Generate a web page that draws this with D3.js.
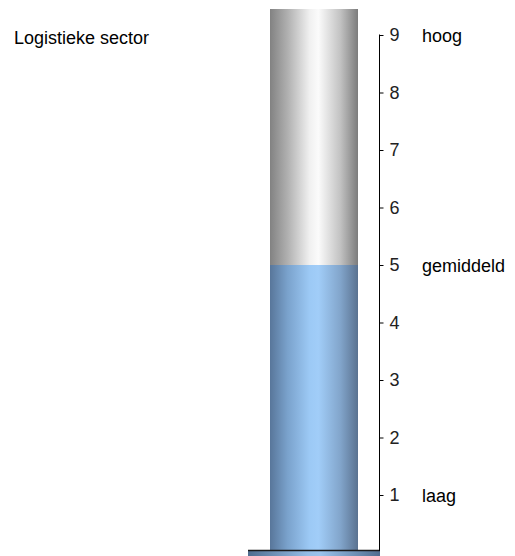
<!DOCTYPE html>
<html>
<head>
<meta charset="utf-8">
<script src="https://cdn.jsdelivr.net/npm/d3@7"></script>
<style>
  body { margin: 0; background: #fff; }
  svg { display: block; font-family: "Liberation Sans", Arial, sans-serif; }
</style>
</head>
<body>
<svg id="chart" width="515" height="556"></svg>
<script>
var title = "Logistieke sector";
var score = [5];
var maxScore = [9];
var tickValues = [1, 2, 3, 4, 5, 6, 7, 8, 9];
var levelValues = [1, 5, 9];
var levelLabels = ["laag", "gemiddeld", "hoog"];

var svg = d3.select("#chart");

var y = d3.scaleLinear()
	.domain([0, 9])
	.range([552.5, 35]);

var tubeLeft = 270, tubeRight = 358;

var defs = svg.append("defs");

function tubeGradient(id, stops) {
	var g = defs.append("linearGradient")
		.attr("id", id)
		.attr("x1", "0%").attr("x2", "100%")
		.attr("y1", "0%").attr("y2", "0%");
	stops.forEach(function(s) {
		g.append("stop").attr("offset", s[0]).attr("stop-color", s[1]);
	});
}

tubeGradient("grayGrad", [
	["0%", "#828282"], ["20%", "#b0b0b0"], ["45%", "#f0f0f0"],
	["55%", "#fbfbfb"], ["80%", "#c2c2c2"], ["100%", "#7c7c7c"]
]);
tubeGradient("blueGrad", [
	["0%", "#58769a"], ["20%", "#7aa2cc"], ["45%", "#9cc9f5"],
	["55%", "#a1cdf8"], ["80%", "#82a5cb"], ["100%", "#5a7290"]
]);
tubeGradient("floorGrad", [
	["0%", "#4f6d8f"], ["45%", "#94bde6"], ["55%", "#9ac3ec"], ["100%", "#4f6d8f"]
]);

// empty part of the tube
svg.append("rect")
	.attr("x", tubeLeft)
	.attr("y", 9)
	.attr("width", tubeRight - tubeLeft)
	.attr("height", 550 - 9)
	.attr("fill", "url(#grayGrad)");

// filled part
svg.selectAll(".fill")
	.data(score)
	.enter()
	.append("rect")
	.attr("class", "fill")
	.attr("x", tubeLeft)
	.attr("y", function(d) { return y(d); })
	.attr("width", tubeRight - tubeLeft)
	.attr("height", function(d) { return 550 - y(d); })
	.attr("fill", "url(#blueGrad)");

// floor
svg.append("rect")
	.attr("x", 248)
	.attr("y", 550)
	.attr("width", 132)
	.attr("height", 6)
	.attr("fill", "url(#floorGrad)");
svg.append("line")
	.attr("x1", 248).attr("x2", 380)
	.attr("y1", 550.5).attr("y2", 550.5)
	.attr("stroke", "#1a1a1a")
	.attr("stroke-width", 1.5);

// axis
var axis = d3.axisRight(y)
	.tickValues(tickValues)
	.tickSize(4)
	.tickPadding(6)
	.tickFormat(d3.format("d"));

var axisG = svg.append("g")
	.attr("transform", "translate(379.5,0)")
	.call(axis);
axisG.select(".domain").remove();
axisG.append("line")
	.attr("x1", 0).attr("x2", 0)
	.attr("y1", y(maxScore[0]) - 0.5).attr("y2", 551)
	.attr("stroke", "#000");
axisG.selectAll(".tick line").attr("stroke", "#000");
axisG.selectAll(".tick text")
	.attr("fill", "#222")
	.style("font-size", "18px")
	.style("font-family", "Liberation Sans, Arial, sans-serif");

// level labels
svg.selectAll(".level")
	.data(levelValues)
	.enter()
	.append("text")
	.attr("class", "level")
	.attr("x", 422)
	.attr("y", function(d) { return y(d); })
	.attr("dy", "0.38em")
	.attr("font-size", "18px")
	.attr("fill", "#000")
	.text(function(d, i) { return levelLabels[i]; });

svg.append("text")
	.attr("x", 14)
	.attr("y", 44)
	.attr("font-size", "18px")
	.attr("fill", "#000")
	.text(title);
</script>
</body>
</html>
